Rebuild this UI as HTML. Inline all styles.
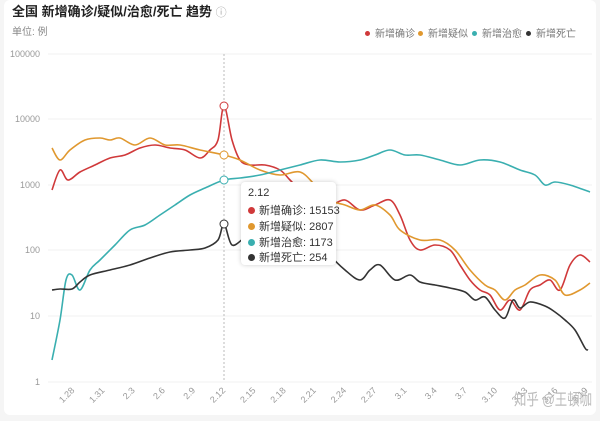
<!DOCTYPE html>
<html><head><meta charset="utf-8"><style>
body{margin:0;width:600px;height:421px;background:#f5f5f5;font-family:"Liberation Sans","Noto Sans CJK SC",sans-serif;overflow:hidden;position:relative}
.card{position:absolute;left:4px;top:0;width:592px;height:415px;background:#fff;border-radius:6px}
.t{position:absolute;left:12px;top:1px;font-size:13px;font-weight:bold;color:#222}
.u{position:absolute;left:12px;top:23px;font-size:10px;color:#888}
.lg{position:absolute;top:25px;font-size:10px;color:#777;white-space:nowrap}
.lg span{display:inline-block;width:5px;height:5px;border-radius:50%;margin-right:5px;vertical-align:1px}
.tip{position:absolute;left:241px;top:182px;width:95px;height:83px;background:#fff;border-radius:4px;box-shadow:0 0 5px rgba(0,0,0,.2);font-size:11px;color:#333}
.tip div{position:absolute;left:7px;white-space:nowrap}
.tip i{display:inline-block;width:7px;height:7px;border-radius:50%;margin-right:4px}
</style></head><body>
<div class="card"></div>
<div class="t">全国 新增确诊/疑似/治愈/死亡 趋势 <span style="font-weight:normal;color:#aaa;font-size:11px">ⓘ</span></div>
<div class="u">单位: 例</div>
<div class="lg" style="left:365px"><span style="background:#d0393a"></span>新增确诊</div>
<div class="lg" style="left:418px"><span style="background:#e0982f"></span>新增疑似</div>
<div class="lg" style="left:472px"><span style="background:#3aafb0"></span>新增治愈</div>
<div class="lg" style="left:526px"><span style="background:#333"></span>新增死亡</div>
<svg width="600" height="421" style="position:absolute;left:0;top:0" font-family="Liberation Sans" font-size="9" fill="#999">
<g stroke="#f0f0f0">
<line x1="48" x2="592" y1="54" y2="54"/><line x1="48" x2="592" y1="119" y2="119"/><line x1="48" x2="592" y1="185" y2="185"/><line x1="48" x2="592" y1="250" y2="250"/><line x1="48" x2="592" y1="316" y2="316"/><line x1="48" x2="592" y1="382" y2="382"/></g>
<g text-anchor="end"><text x="40" y="57">100000</text><text x="40" y="122">10000</text><text x="40" y="188">1000</text><text x="40" y="253">100</text><text x="40" y="319">10</text><text x="40" y="385">1</text></g>
<line x1="224" x2="224" y1="54" y2="382" stroke="#bbb" stroke-dasharray="2,2"/>
<g id="xl" text-anchor="end"></g>
<g id="lines" fill="none" stroke-width="1.6"></g>
<g fill="#fff" stroke-width="1"><circle cx="224" cy="106" r="4" stroke="#d0393a"/><circle cx="224" cy="155" r="4" stroke="#e0982f"/><circle cx="224" cy="180" r="4" stroke="#3aafb0"/><circle cx="224" cy="224" r="4" stroke="#333"/></g>
<text x="514" y="405" font-size="16" textLength="78" lengthAdjust="spacingAndGlyphs" fill="#bbb" font-family="Liberation Sans,Noto Sans CJK SC,sans-serif">知乎 @王頓咖</text>
</svg>
<div class="tip">
<div style="top:5px">2.12</div>
<div style="top:20px"><i style="background:#d0393a"></i>新增确诊: 15153</div>
<div style="top:36px"><i style="background:#e0982f"></i>新增疑似: 2807</div>
<div style="top:52px"><i style="background:#3aafb0"></i>新增治愈: 1173</div>
<div style="top:67px"><i style="background:#333"></i>新增死亡: 254</div>
</div>
<script>
var S={
"#d0393a":[[52,190],[60,170],[68,180],[80,172],[95,165],[110,158],[125,155],[140,148],[155,145],[170,148],[185,150],[200,158],[210,150],[218,140],[224,106],[232,140],[240,160],[250,165],[265,165],[280,170],[290,180],[300,190],[315,200],[330,205],[345,200],[360,210],[375,205],[390,200],[400,215],[410,240],[420,250],[435,245],[450,250],[460,265],[470,280],[480,290],[490,295],[500,310],[510,300],[520,310],[530,290],[540,285],[550,280],[560,290],[570,265],[580,255],[590,262]],
"#e0982f":[[52,148],[60,160],[70,150],[85,140],[100,138],[110,140],[120,138],[135,145],[150,138],[165,145],[180,145],[200,150],[224,155],[240,160],[260,170],[280,175],[300,172],[315,185],[330,200],[345,205],[360,210],[375,205],[390,215],[400,230],[420,240],[440,240],[455,250],[470,270],[485,285],[495,290],[505,300],[515,290],[525,285],[540,275],[555,280],[565,295],[580,290],[590,283]],
"#3aafb0":[[52,360],[60,320],[66,280],[72,275],[80,290],[90,270],[100,260],[115,245],[130,230],[145,225],[160,215],[175,205],[190,195],[205,188],[224,180],[240,178],[260,175],[280,170],[300,165],[320,160],[340,162],[360,160],[375,155],[390,150],[405,155],[420,155],[440,160],[460,165],[480,160],[500,162],[520,170],[535,175],[545,185],[555,182],[570,185],[590,192]],
"#333":[[52,290],[60,289],[72,289],[80,282],[90,275],[110,270],[130,265],[150,258],[170,252],[190,250],[205,248],[218,240],[224,224],[232,245],[245,238],[255,240],[270,230],[285,235],[300,230],[310,225],[320,240],[330,255],[345,270],[360,280],[370,270],[380,265],[395,280],[410,275],[420,282],[435,285],[450,288],[465,292],[475,300],[485,297],[495,310],[505,318],[513,300],[520,308],[530,302],[545,306],[555,312],[565,320],[575,330],[585,348],[588,350]]};
var g=document.getElementById('lines'),ns='http://www.w3.org/2000/svg';
for(var c in S){var p=S[c],d='M'+p[0];for(var i=0;i<p.length-1;i++){var a=p[i-1]||p[i],b=p[i],e=p[i+1],f=p[i+2]||e;d+='C'+(b[0]+(e[0]-a[0])/6)+','+(b[1]+(e[1]-a[1])/6)+' '+(e[0]-(f[0]-b[0])/6)+','+(e[1]-(f[1]-b[1])/6)+' '+e;}
var el=document.createElementNS(ns,'path');el.setAttribute('d',d);el.setAttribute('stroke',c);g.appendChild(el);}
var L=['1.28','1.31','2.3','2.6','2.9','2.12','2.15','2.18','2.21','2.24','2.27','3.1','3.4','3.7','3.10','3.13','3.16','3.19'],xl=document.getElementById('xl');
L.forEach(function(t,i){var x=75+i*30.2,el=document.createElementNS(ns,'text');el.setAttribute('transform','translate('+x+',391) rotate(-45)');el.textContent=t;xl.appendChild(el);});
</script>
</body></html>
